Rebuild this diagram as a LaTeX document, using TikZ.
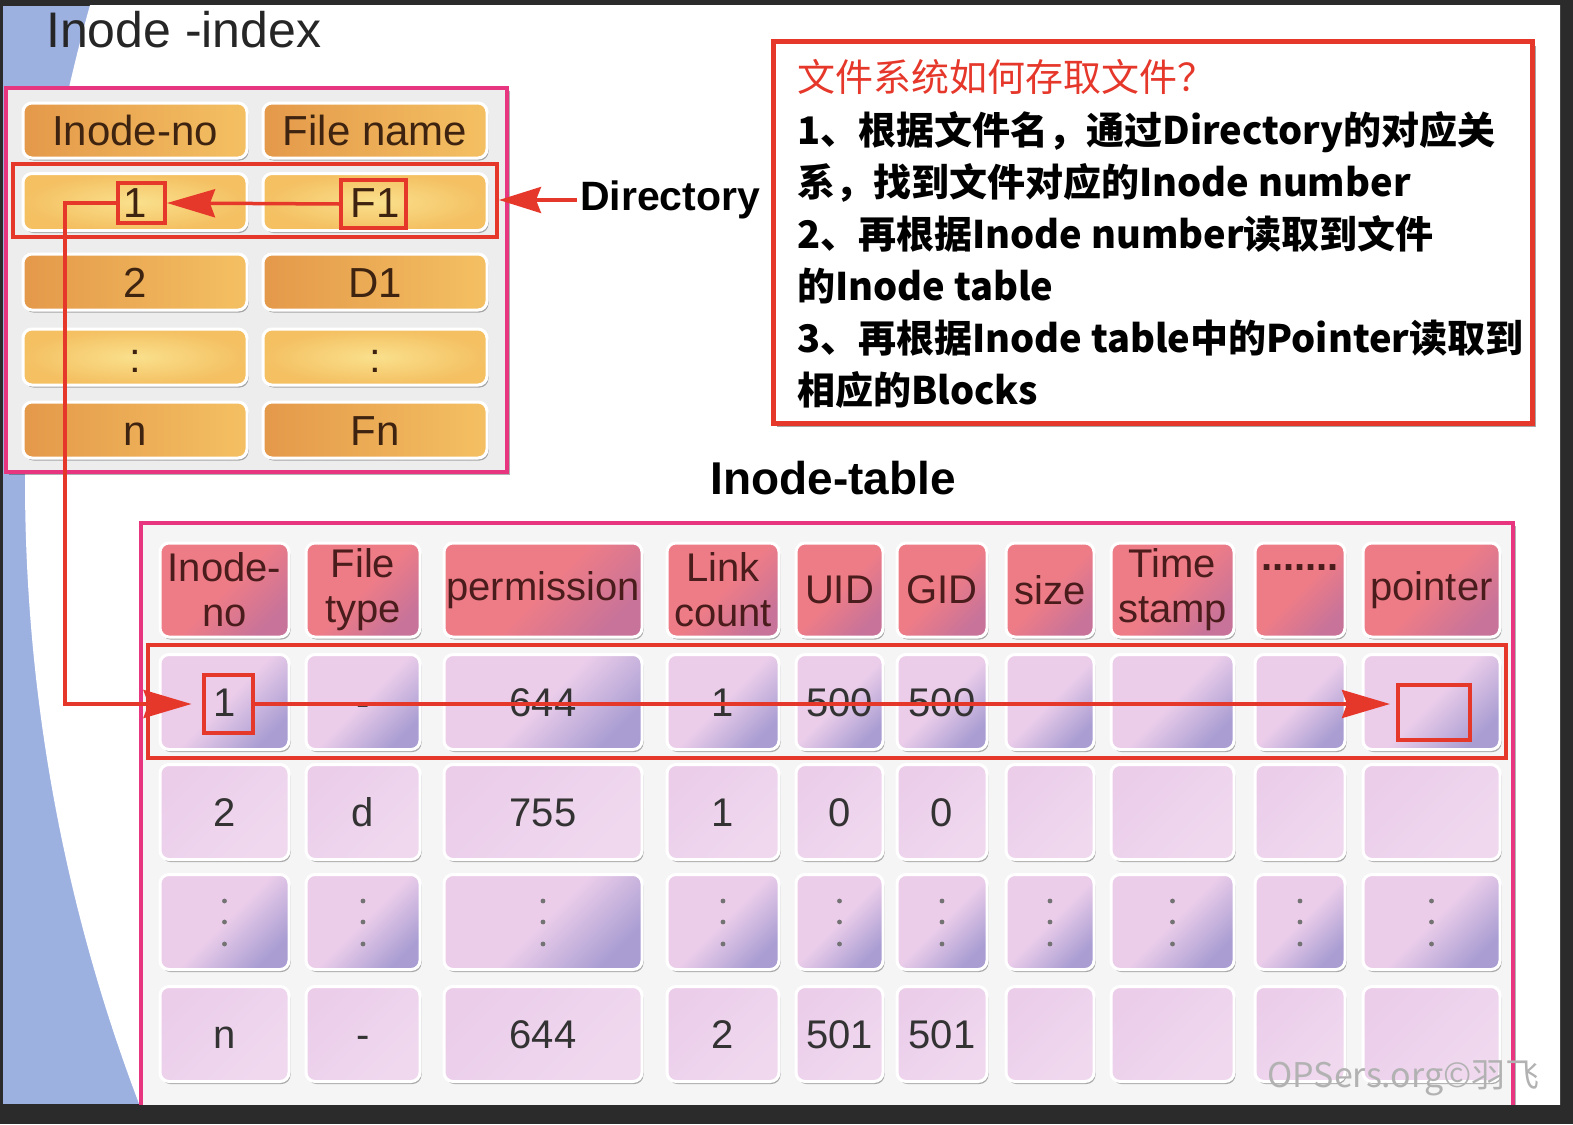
\documentclass[tikz,border=0pt]{standalone}
\usepackage{fontspec}
\setmainfont{Liberation Sans}
\newfontfamily\cjk{Noto Sans CJK SC}
\usetikzlibrary{arrows.meta,shadows}

\definecolor{bgdark}{HTML}{2B2B2B}
\definecolor{slideblue}{HTML}{9DB1E0}
\definecolor{boxpink}{HTML}{E8357F}
\definecolor{markred}{HTML}{E6372B}
\definecolor{orgdark}{HTML}{E4994A}
\definecolor{orglight}{HTML}{F4C062}
\definecolor{orgpale}{HTML}{FAE08C}
\definecolor{hdrred}{HTML}{EE7C87}
\definecolor{hdrdark}{HTML}{C7739A}
\definecolor{lav}{HTML}{EBCDEA}
\definecolor{lavdark}{HTML}{A99DD2}
\definecolor{txtbrown}{HTML}{3E2410}
\definecolor{txtmaroon}{HTML}{4A1C1C}

\tikzset{
  cellbase/.style={rounded corners=9pt, draw=white, line width=3pt, inner sep=0pt,
    drop shadow={shadow xshift=1.5pt, shadow yshift=-2.5pt, opacity=.3, fill=black}},
  ixhead/.style={cellbase, left color=orgdark, right color=orglight,
    text=txtbrown, font=\fontsize{42}{46}\selectfont, text height=30pt, text depth=0pt},
  ixglow/.style={cellbase, shading=radial, inner color=orgpale, outer color=orglight,
    text=txtbrown, font=\fontsize{42}{46}\selectfont, text height=30pt, text depth=0pt},
  ithead/.style={cellbase, top color=hdrred, bottom color=hdrdark, middle color=hdrred,
    shading angle=45, text=txtmaroon, align=center, font=\fontsize{40}{45}\selectfont,
    minimum height=94},
  itshade/.style={cellbase, top color=lav, bottom color=lavdark, middle color=lav,
    shading angle=45, text=black!80, font=\fontsize{40}{44}\selectfont,
    text height=29pt, text depth=0pt, minimum height=95},
  itplain/.style={cellbase, top color=lav, bottom color=lav!75!white,
    shading angle=45, text=black!80, font=\fontsize{40}{44}\selectfont,
    text height=29pt, text depth=0pt, minimum height=95},
  markbox/.style={draw=markred, line width=4pt},
  markarrow/.style={draw=markred, line width=3.5pt,
    -{Stealth[length=48pt, width=28pt, inset=5pt]}},
}

\begin{document}
\begin{tikzpicture}[x=1pt,y=-1pt]
\useasboundingbox (0,0) rectangle (1573,1124);
\fill[bgdark] (0,0) rectangle (1573,1124);

% slide background
\fill[slideblue] (3,6) rectangle (1560,1104);
\begin{scope}
  \clip (3,6) rectangle (1560,1104);
  \fill[white] (1780,480) circle[radius=1755];
\end{scope}

% inode-index
\node[anchor=base west, inner sep=0, text=black!85,
  font=\fontsize{50}{56}\selectfont] (ixtitle) at (46,48) {Inode -index};
\draw[boxpink, line width=4pt, fill=black!7,
  drop shadow={shadow xshift=3pt, shadow yshift=-3pt, opacity=.3, fill=black}]
  (6,88) rectangle (507,472);

\foreach \r/\y/\h/\sty/\a/\b in {0/130.5/55/ixhead/Inode-no/File name,
    1/202/57/ixglow/1/F1, 2/282/56/ixhead/2/D1, 3/357/56/ixglow/:/:,
    4/430/56/ixhead/n/Fn} {
  \node[\sty, minimum width=224, minimum height=\h] (ix-\r-1) at (135,\y) {\a};
  \node[\sty, minimum width=224, minimum height=\h] (ix-\r-2) at (375,\y) {\b};
}

\node[markbox, minimum width=484, minimum height=73] (ixrow) at (255,200) {};
\node[markbox, minimum width=47, minimum height=40] (ixsel) at (141.5,203) {};
\node[markbox, minimum width=65, minimum height=48] (fnsel) at (373.5,204) {};
\draw[markarrow] (fnsel.west) -- (ixsel.east);

\node[anchor=west, inner sep=0, font=\bfseries\fontsize{41}{46}\selectfont]
  (dir) at (580,200) {Directory};
\draw[markarrow, -{Stealth[length=42pt, width=26pt, inset=5pt]}, shorten <=3pt]
  (dir.west) -- (ixrow.east);

% how the file system reads a file
\node[draw=markred, line width=5pt, fill=white, minimum width=759, minimum height=381,
  drop shadow={shadow xshift=4pt, shadow yshift=-4pt, opacity=.35, fill=black}]
  (howto) at (1152.5,232.5) {};
\node[anchor=base west, inner sep=0, text=markred,
  font=\cjk\fontsize{38}{52}\selectfont] (howto-1) at (797,92) {文件系统如何存取文件？};
\foreach \t [count=\i from 2] in {1、根据文件名，通过Directory的对应关,
    系，找到文件对应的Inode number, 2、再根据Inode number读取到文件,
    的Inode table, 3、再根据Inode table中的Pointer读取到, 相应的Blocks} {
  \node[anchor=base west, inner sep=0, font=\cjk\bfseries\fontsize{38}{52}\selectfont]
    (howto-\i) at (797,40+52*\i) {\t};
}

% inode-table
\node[inner sep=0, font=\bfseries\fontsize{46}{50}\selectfont] (ittitle) at (833,478)
  {Inode-table};
\begin{scope}
  \clip (3,6) rectangle (1560,1104);
  \draw[boxpink, line width=4pt, fill=black!4,
    drop shadow={shadow xshift=3pt, shadow yshift=-3pt, opacity=.3, fill=black}]
    (141,523) rectangle (1513,1140);
\end{scope}

\foreach \c/\x/\w/\hd/\va/\vb/\vd in {
    1/224.5/129/{Inode-\\no}/1/2/n,
    2/363/114/{File\\type}/-/d/-,
    3/543/198/permission/644/755/644,
    4/723/112/{Link\\count}/1/1/2,
    5/839.5/87/UID/500/0/501,
    6/942/90/GID/500/0/501,
    7/1050/88/size/{}/{}/{},
    8/1172.5/123/{Time\\stamp}/{}/{}/{},
    9/1300/90/{\textbf{.......}\\~}/{}/{}/{},
    10/1431.5/137/pointer/{}/{}/{}} {
  \node[ithead, minimum width=\w] (it-0-\c) at (\x,590) {\hd};
  \node[itshade, minimum width=\w] (it-1-\c) at (\x,702) {\va};
  \node[itplain, minimum width=\w] (it-2-\c) at (\x,812) {\vb};
  \node[itshade, minimum width=\w] (it-3-\c) at (\x,922) {};
  \foreach \d in {-21,0,22}
    \fill[black!55] (\x,922+\d) circle[radius=2.4];
  \node[itplain, minimum width=\w] (it-4-\c) at (\x,1034) {\vd};
}

\node[markbox, minimum width=1358, minimum height=113] (itrow) at (827,701.5) {};
\node[markbox, minimum width=49, minimum height=58] (itsel) at (228,704) {};
\node[markbox, minimum width=72, minimum height=55] (ptrsel) at (1434,712) {};
\draw[markarrow, shorten >=6pt] (itsel.east) -- (itsel.east -| ptrsel.west);
\draw[markarrow, shorten >=10pt] (ixsel.west) -- ++(-51,0) |- (itsel.west);

\node[anchor=east, inner sep=0, text=black!30, font=\cjk\fontsize{34}{36}\selectfont]
  (wmark) at (1540,1078) {OPSers.org©羽飞};
\end{tikzpicture}
\end{document}
